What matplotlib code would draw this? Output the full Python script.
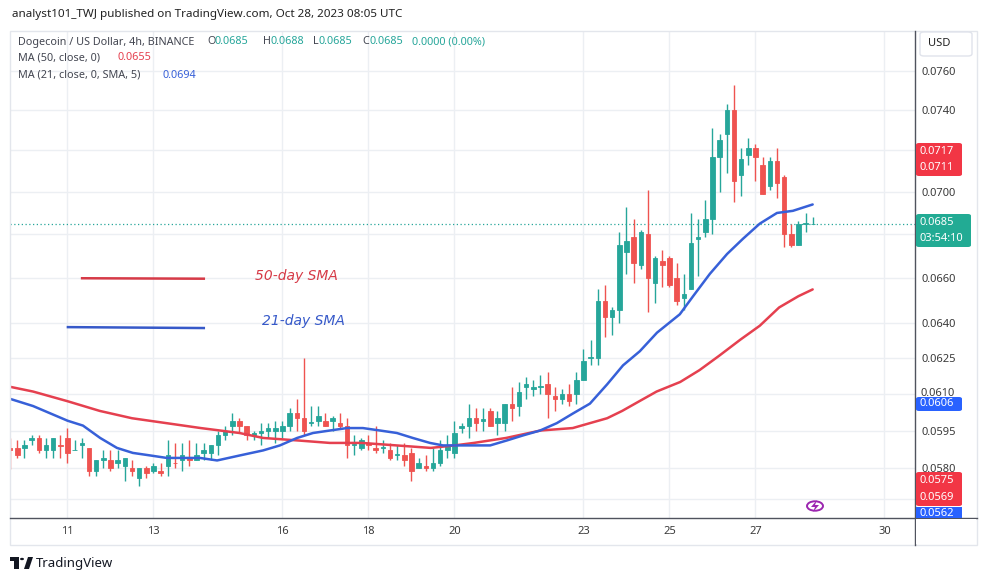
import matplotlib
matplotlib.use('Agg')
import matplotlib.pyplot as plt
from matplotlib.lines import Line2D
from matplotlib.patches import Rectangle, FancyBboxPatch, Circle, Polygon
from matplotlib.ticker import FixedLocator, FixedFormatter, NullFormatter
from matplotlib.transforms import Bbox
import numpy as np

# 4h candles, first bar Oct 9 16:00 UTC
start_day = 9 + 16 / 24.
opens = [.0588, .0588, .0588, .0591, .0592, .0587, .0587, .0589, .0592, .0587,
         .0589, .0588, .0579, .0583, .0583, .0582, .0581, .0580, .0576, .0580,
         .0579, .0579, .0581, .0582, .0583, .0584, .0583, .0586, .0586, .0589,
         .0593, .0597, .0599, .0597, .0593, .0594, .0595, .0595, .0595, .0597,
         .0602, .0600, .0598, .0599, .0599, .0599, .0598, .0597, .0589, .0588,
         .0590, .0588, .0588, .0587, .0585, .0585, .0586, .0580, .0581, .0580,
         .0582, .0587, .0586, .0596, .0597, .0600, .0599, .0603, .0598, .0598,
         .0606, .0605, .0613, .0612, .0613, .0614, .0609, .0608, .0610, .0610,
         .0616, .0625, .0625, .0650, .0643, .0646, .0672, .0679, .0666, .0680,
         .0658, .0668, .0669, .0660, .0651, .0655, .0678, .0681, .0687, .0717,
         .0728, .0740, .0708, .0718, .0721, .0713, .0703, .0715, .0707, .0680,
         .0675, .0685, .0685]
highs = [.0592, .0591, .0591, .0593, .0593, .0592, .0592, .0593, .0596, .0591,
         .0592, .0588, .0583, .0587, .0587, .0587, .0584, .0583, .0580, .0581,
         .0582, .0582, .0591, .0590, .0590, .0591, .0590, .0590, .0589, .0595,
         .0597, .0602, .0600, .0597, .0595, .0598, .0598, .0599, .0599, .0604,
         .0608, .0625, .0605, .0605, .0602, .0601, .0602, .0600, .0593, .0592,
         .0593, .0597, .0591, .0590, .0589, .0590, .0588, .0584, .0585, .0588,
         .0591, .0593, .0599, .0598, .0606, .0604, .0604, .0604, .0603, .0606,
         .0613, .0615, .0617, .0616, .0618, .0619, .0613, .0612, .0614, .0619,
         .0629, .0633, .0655, .0657, .0647, .0681, .0693, .0687, .0682, .0701,
         .0670, .0673, .0670, .0667, .0662, .0690, .0687, .0696, .0731, .0728,
         .0743, .0753, .0721, .0726, .0723, .0717, .0717, .0721, .0708, .0685,
         .0686, .0690, .0688]
lows = [.05795, .0584, .0584, .0589, .0586, .0584, .0584, .0584, .0582, .0587,
        .0584, .0577, .0577, .0580, .0579, .0580, .0575, .0577, .0573, .0576,
        .0578, .0577, .0577, .0580, .0579, .0581, .0583, .0583, .0583, .0585,
        .0591, .0593, .0594, .0591, .0591, .0589, .0592, .0590, .0592, .0595,
        .0595, .0593, .0597, .0597, .0597, .0595, .0596, .0584, .0585, .0587,
        .0587, .0586, .0586, .0583, .0583, .0581, .0575, .0580, .0579, .0579,
        .0581, .0584, .0584, .0594, .0592, .0595, .0595, .0597, .0593, .0595,
        .0599, .0601, .0608, .0609, .0610, .0600, .0603, .0606, .0605, .0606,
        .0616, .0622, .0622, .0634, .0635, .0640, .0662, .0658, .0664, .0645,
        .0649, .0656, .0656, .0648, .0646, .0655, .0661, .0679, .0680, .0700,
        .0709, .0695, .0698, .0713, .0705, .0699, .0701, .0697, .0674, .0674,
        .0675, .0681, .0685]
closes = [.0587, .0585, .0589, .0592, .0587, .0589, .0592, .05888, .0586, .05872,
          .0590, .0579, .0583, .0584, .0580, .0583, .0584, .0579, .0580, .0578,
          .0581, .0578, .0585, .05818, .0585, .0583, .0585, .0587, .0589, .0593,
          .0595, .0599, .0597, .0593, .0594, .0595, .0596, .0596, .0597, .0602,
          .0600, .0595, .05985, .0601, .0597, .0600, .0597, .0589, .05895, .0591,
          .0589, .0587, .05885, .0584, .05855, .0583, .0579, .0582, .0580, .0582,
          .0587, .0589, .0594, .0597, .0600, .0598, .05995, .0597, .0600, .0606,
          .0604, .0611, .0614, .0613, .06135, .0610, .0608, .0610, .0607, .0616,
          .0624, .06255, .0650, .0643, .0646, .0675, .0677, .0667, .0681, .0660,
          .0669, .0666, .0657, .0650, .0653, .0676, .0679, .0687, .0717, .0725,
          .0740, .0705, .0716, .0721, .0717, .0699, .0715, .0704, .0680, .0675,
          .0685, .06852, .0685]

# moving averages (day of October, price)
ma50_t = [9.66, 10.2, 11.0, 11.75, 12.5, 13.3, 14.1, 14.55, 15.0, 15.55, 16.35,
          17.1, 17.85, 18.65, 19.45, 20.0, 20.45, 21.2, 22.0, 22.75, 23.15,
          23.55, 23.9, 24.3, 24.7, 25.25, 25.7, 26.15, 26.65, 27.1, 27.55,
          28.0, 28.33]
ma50_v = [.0613, .0611, .0607, .0603, .0600, .0598, .0596, .0595, .0594, .0592,
          .0591, .0590, .0590, .0589, .0588, .0589, .0590, .0592, .0595, .0596,
          .0598, .0600, .0603, .0607, .0611, .0615, .0620, .0626, .0633, .0639,
          .0647, .0652, .0655]
ma21_t = [9.66, 10.2, 11.0, 11.36, 11.76, 12.15, 12.52, 12.92, 13.31, 13.69,
          14.08, 14.48, 15.01, 15.55, 15.94, 16.34, 16.71, 17.1, 17.5, 17.87,
          18.27, 18.66, 19.03, 19.43, 19.73, 20.01, 20.83, 21.22, 21.59, 21.99,
          22.38, 22.76, 23.15, 23.55, 23.92, 24.31, 24.71, 25.24, 25.55, 25.94,
          26.34, 26.71, 27.1, 27.5, 27.87, 28.33]
ma21_v = [.0608, .0605, .0599, .0597, .0592, .0588, .0586, .0585, .0584, .0584,
          .0584, .0583, .0585, .0587, .0589, .0592, .0594, .0595, .0596, .0596,
          .0595, .0594, .0592, .0590, .0589, .0589, .0589, .0591, .0593, .0595,
          .0598, .0602, .0606, .0614, .0622, .0628, .0636, .0644, .0652, .0662,
          .0671, .0678, .0685, .0690, .0691, .0694]

price_ticks = [.0580, .0595, .0625, .0640, .0660, .0700, .0740, .0760]
price_labels = ['0.0580', '0.0595', '0.0625', '0.0640', '0.0660',
                '0.0700', '0.0740', '0.0760']
hidden_grid = [.0568, .0610, .0680, .0720]
day_ticks = [11, 13, 16, 18, 20, 23, 25, 27, 30]
last_price = .0685

# hand drawn labels on the chart
sma50_line_x, sma50_line_y = [11.34, 14.17], [.0660, .06598]
sma21_line_x, sma21_line_y = [11.01, 14.17], [.06384, .06380]

UP = '#26a69a'
DN = '#ef5350'
MA50_C = '#e5404f'
MA21_C = '#3760d8'
GRID = '#eceff3'
TXT = '#3a3a3a'
FONT = 'Noto Sans'

W, H = 987, 581


def fx(x):
    return x / W


def fy(y):
    return 1 - y / H


fig = plt.figure(figsize=(W / 100., H / 100.), dpi=100)
fig.patch.set_facecolor('white')

# outer frame of the chart panel
fig.add_artist(Rectangle((fx(10), fy(545)), (977 - 10) / W, (545 - 31) / H,
                         transform=fig.transFigure, fill=False,
                         edgecolor='#e3e6ec', lw=1))

ax = fig.add_axes([fx(10), fy(518), (915 - 10) / W, (518 - 31) / H])
ax.set_yscale('log')
ax.set_xlim(9.663, 30.71)
ax.set_ylim(0.05606, 0.07810)

for s in ['top', 'left', 'right', 'bottom']:
    ax.spines[s].set_visible(False)

ax.yaxis.tick_right()
ax.yaxis.set_major_locator(FixedLocator(price_ticks))
ax.yaxis.set_major_formatter(FixedFormatter(price_labels))
ax.yaxis.set_minor_locator(FixedLocator(hidden_grid))
ax.yaxis.set_minor_formatter(NullFormatter())
ax.tick_params(axis='y', which='both', length=0, pad=5, labelsize=8,
               labelcolor=TXT)
for lab in ax.get_yticklabels():
    lab.set_fontfamily(FONT)

ax.set_xticks(day_ticks)
ax.set_xticklabels([str(d) for d in day_ticks])
ax.tick_params(axis='x', length=0, pad=6, labelsize=8, labelcolor=TXT)
for lab in ax.get_xticklabels():
    lab.set_fontfamily(FONT)
    if lab.get_text() in ('16', '23', '30'):
        lab.set_fontweight('bold')

ax.grid(True, which='both', color=GRID, lw=1)
ax.set_axisbelow(True)

# candles
o = np.array(opens)
h = np.array(highs)
l = np.array(lows)
c = np.array(closes)
t = start_day + np.arange(len(o)) / 6.
cols = [UP if cc >= oo else DN for oo, cc in zip(o, c)]
ax.vlines(t, l, h, colors=cols, lw=1, zorder=2)
ax.bar(t, np.abs(c - o), bottom=np.minimum(o, c), width=0.105, color=cols,
       edgecolor=cols, lw=0.6, zorder=3)

# moving averages
ax.plot(ma50_t, ma50_v, color=MA50_C, lw=1.8, zorder=4, solid_capstyle='round')
ax.plot(ma21_t, ma21_v, color=MA21_C, lw=1.8, zorder=4, solid_capstyle='round')

ax.axhline(last_price, color=UP, ls=(0, (1, 2)), lw=0.9, zorder=1)

# annotation lines + texts
ax.plot(sma50_line_x, sma50_line_y, color='#d63a47', lw=1.8)
ax.plot(sma21_line_x, sma21_line_y, color='#3659c9', lw=1.8)
ax.text(15.36, .0661, '50-day SMA', color='#d63a47', fontsize=10,
        style='italic', va='center', family='DejaVu Sans')
ax.text(15.52, .0641, '21-day SMA', color='#3659c9', fontsize=10,
        style='italic', va='center', family='DejaVu Sans')

# axis lines
fig.add_artist(Line2D([fx(915), fx(915)], [fy(31), fy(545)],
                      transform=fig.transFigure, color='#50535e', lw=1))
fig.add_artist(Line2D([fx(10), fx(977)], [fy(518), fy(518)],
                      transform=fig.transFigure, color='#50535e', lw=1))

# header
fig.text(fx(12), fy(14), 'analyst101_TWJ published on TradingView.com, Oct 28, 2023 08:05 UTC',
         fontsize=8.4, color='#222222', va='center', family=FONT)

leg = [(18, 42, 'Dogecoin / US Dollar, 4h, BINANCE', '#434651'),
       (207, 42, 'O', '#434651'), (215, 42, '0.0685', UP),
       (263, 42, 'H', '#434651'), (271, 42, '0.0688', UP),
       (313, 42, 'L', '#434651'), (319, 42, '0.0685', UP),
       (362, 42, 'C', '#434651'), (370, 42, '0.0685', UP),
       (412, 42, '0.0000 (0.00%)', UP),
       (18, 58, 'MA (50, close, 0)', '#434651'), (118, 58, '0.0655', MA50_C),
       (18, 75, 'MA (21, close, 0, SMA, 5)', '#434651'), (163, 75, '0.0694', MA21_C)]
for x, y, s, col in leg:
    fig.text(fx(x), fy(y), s, fontsize=7.8, color=col, va='center', family=FONT)


def price_box(x0, x1, y0, y1, color, lines):
    fig.add_artist(FancyBboxPatch((fx(x0), fy(y1)), (x1 - x0) / W, (y1 - y0) / H,
                                  boxstyle='round,pad=0,rounding_size=0.003',
                                  transform=fig.transFigure, facecolor=color,
                                  edgecolor='none', zorder=5))
    step = (y1 - y0) / len(lines)
    for i, s in enumerate(lines):
        fig.text(fx(x0 + 4), fy(y0 + step * (i + 0.5)), s, fontsize=8,
                 color='white', va='center', family=FONT, zorder=6)


# 0.0610 tick label, mostly covered by the 0.0606 label
fig.text(fx(921), fy(393), '0.0610', fontsize=8, color=TXT, va='center',
         family=FONT, zorder=4)
price_box(916, 962, 143, 176, '#f23645', ['0.0717', '0.0711'])
price_box(916, 971, 214, 247, '#22ab94', ['0.0685', '03:54:10'])
price_box(916, 962, 397, 411, '#2962ff', ['0.0606'])
price_box(916, 962, 472, 506, '#f23645', ['0.0575', '0.0569'])
# partly hidden label under the time axis
fig.add_artist(Rectangle((fx(916), fy(518)), 46 / W, 11 / H,
                         transform=fig.transFigure, facecolor='#2962ff',
                         edgecolor='none', zorder=5))
fig.text(fx(920), fy(514), '0.0562', fontsize=8, color='white',
         va='center', family=FONT, zorder=6)
# white strip below the axis line so the clipped label ends there
fig.add_artist(Rectangle((fx(916), fy(544)), 60 / W, 25.5 / H,
                         transform=fig.transFigure, facecolor='white',
                         edgecolor='none', zorder=7))

# USD box
fig.add_artist(FancyBboxPatch((fx(920), fy(56)), 52 / W, 24 / H,
                              boxstyle='round,pad=0,rounding_size=0.004',
                              transform=fig.transFigure, facecolor='white',
                              edgecolor='#e0e3eb', lw=1, zorder=5))
fig.text(fx(928), fy(44), 'USD', fontsize=8, color='#222222', va='center',
         family=FONT, zorder=6)

# lightning icon
fig.add_artist(Circle((fx(815), fy(506)), 8 / W, transform=fig.transFigure,
                      fill=False, edgecolor='#9c27b0', lw=1.4))
fig.add_artist(Polygon([(fx(817), fy(500)), (fx(811), fy(507)), (fx(815), fy(507)),
                        (fx(813), fy(512)), (fx(819), fy(505)), (fx(815), fy(505))],
                       closed=True, transform=fig.transFigure,
                       facecolor='#9c27b0', edgecolor='none'))

# TradingView logo
logo = '#131722'
fig.add_artist(Rectangle((fx(10), fy(561)), 9 / W, 4 / H, transform=fig.transFigure,
                         facecolor=logo, edgecolor='none'))
fig.add_artist(Rectangle((fx(14), fy(569)), 5 / W, 12 / H, transform=fig.transFigure,
                         facecolor=logo, edgecolor='none'))
fig.add_artist(Circle((fx(22), fy(559)), 2 / W, transform=fig.transFigure,
                      facecolor=logo, edgecolor='none'))
fig.add_artist(Polygon([(fx(24), fy(569)), (fx(28), fy(557)), (fx(33), fy(557)),
                        (fx(29), fy(569))], closed=True, transform=fig.transFigure,
                       facecolor=logo, edgecolor='none'))
fig.text(fx(36), fy(563), 'TradingView', fontsize=9.5, color=logo, va='center',
         family=FONT)

fig.savefig('out.png', dpi=100, facecolor='white')
